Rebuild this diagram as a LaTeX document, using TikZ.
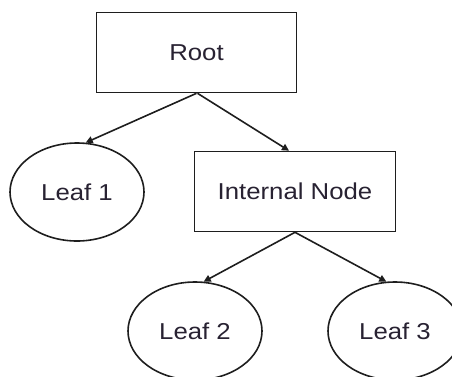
\documentclass[tikz,border=0pt]{standalone}
\usepackage{fontspec}
\setmainfont{Liberation Sans}[FakeStretch=1.12]
\usetikzlibrary{shapes.geometric,arrows.meta}
\definecolor{ink}{RGB}{30,30,30}
\definecolor{txt}{RGB}{40,34,50}
\begin{document}
\begin{tikzpicture}[x=1pt,y=-1pt,
  every node/.style={font=\fontsize{23}{27}\selectfont, text=txt, line width=1.6pt, draw=ink, inner sep=0pt},
  boxnode/.style={rectangle},
  leafnode/.style={ellipse, minimum width=134pt, minimum height=98pt},
  conn/.style={draw=ink, line width=1.6pt, -{Triangle[length=7pt,width=7pt]}}]
\useasboundingbox (0,0) rectangle (452,376);
\node[boxnode, minimum width=200pt, minimum height=80pt] (root) at (196.5,52.5) {Root};
\node[boxnode, minimum width=201pt, minimum height=80pt] (int) at (295,191.5) {Internal Node};
\node[leafnode] (l1) at (77,192) {Leaf 1};
\node[leafnode] (l2) at (195,331) {Leaf 2};
\node[leafnode] (l3) at (395,331) {Leaf 3};
\draw[conn] (root.south) -- (l1.80);
\draw[conn] ([xshift=1pt]root.south) -- ([xshift=-6pt]int.north);
\draw[conn] (int.south) -- (l2.80);
\draw[conn] (int.south) -- (l3.100);
\end{tikzpicture}
\end{document}
